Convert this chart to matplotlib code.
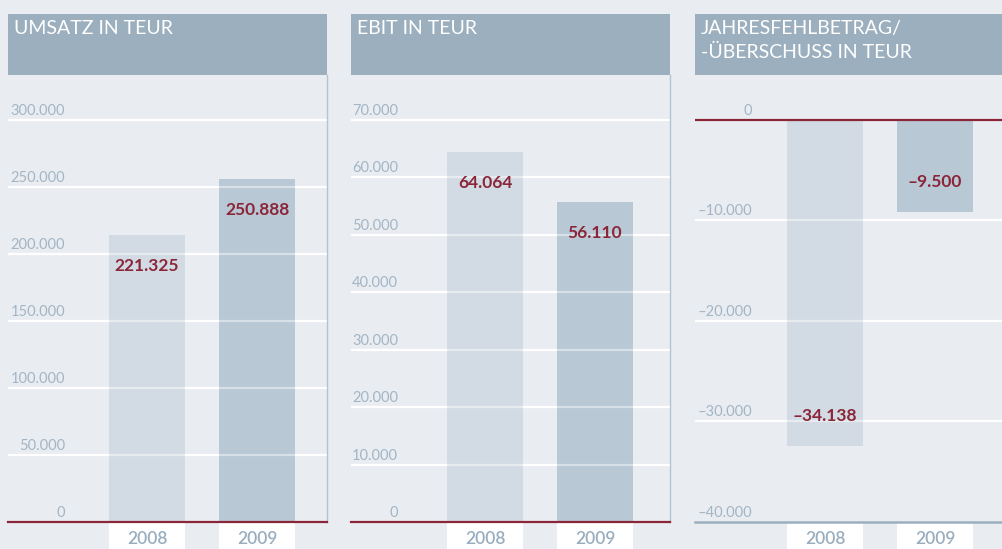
import matplotlib
matplotlib.use("Agg")
import matplotlib.pyplot as plt
from matplotlib.patches import Rectangle

plt.rcParams['font.family'] = ['Lato', 'DejaVu Sans']

# ---- data ----
years = ["2008", "2009"]
titles = ["UMSATZ IN TEUR", "EBIT IN TEUR", "JAHRESFEHLBETRAG/\n-ÜBERSCHUSS IN TEUR"]
umsatz_bars = [214000, 256000]
ebit_bars = [64400, 55700]
jahres_bars = [-32400, -9200]
umsatz_labels = ["221.325", "250.888"]
ebit_labels = ["64.064", "56.110"]
jahres_labels = ["–34.138", "–9.500"]
umsatz_ticks = [0, 50000, 100000, 150000, 200000, 250000, 300000]
ebit_ticks = [0, 10000, 20000, 30000, 40000, 50000, 60000, 70000]
jahres_ticks = [-40000, -30000, -20000, -10000, 0]

# ---- style ----
BG = "#e9edf2"
HEADER = "#9bafbe"
BAR_COLORS = ["#d2dbe4", "#b9c8d5"]
RED = "#8a2638"
TICK_C = "#a3b5c4"
YEAR_C = "#98adbe"
RIGHT_LINE = "#b3c3d0"

W, H = 1003, 549
fig = plt.figure(figsize=(W / 100, H / 100), dpi=100, facecolor=BG)

def fmt(v):
    s = f"{abs(v):,.0f}".replace(",", ".")
    return ("–" + s) if v < 0 else s

panels = [
    dict(title=titles[0], bars=umsatz_bars, labels=umsatz_labels, ticks=umsatz_ticks,
         left=8, center0=147, tick_right=57),
    dict(title=titles[1], bars=ebit_bars, labels=ebit_labels, ticks=ebit_ticks,
         left=351, center0=485, tick_right=47),
    dict(title=titles[2], bars=jahres_bars, labels=jahres_labels, ticks=jahres_ticks,
         left=695, center0=825, tick_right=57),
]

PW = 319
HEAD_TOP, HEAD_BOT = 14, 75
GRID_TOP, BASE = 120, 522
SPACING = 110
BAR_W = 76 / SPACING

for p in panels:
    l = p["left"]
    # header
    hax = fig.add_axes([l / W, 1 - HEAD_BOT / H, PW / W, (HEAD_BOT - HEAD_TOP) / H])
    hax.set_facecolor(HEADER)
    hax.set_xticks([]); hax.set_yticks([])
    for s in hax.spines.values():
        s.set_visible(False)
    hax.text(6 / PW, 1 - 6 / (HEAD_BOT - HEAD_TOP), p["title"], transform=hax.transAxes,
             ha="left", va="top", color="white", fontsize=14, fontweight="normal",
             linespacing=1.5)

    # plot area
    ax = fig.add_axes([l / W, 1 - BASE / H, PW / W, (BASE - HEAD_BOT) / H])
    ax.set_facecolor(BG)
    ticks = p["ticks"]
    ymin, ymaxg = min(ticks), max(ticks)
    ytop = ymaxg + (ymaxg - ymin) * (GRID_TOP - HEAD_BOT) / (BASE - GRID_TOP)
    ax.set_ylim(ymin, ytop)
    xl = -(p["center0"] - l) / SPACING
    ax.set_xlim(xl, xl + PW / SPACING)
    ax.set_xticks([]); ax.set_yticks([])
    for name, s in ax.spines.items():
        s.set_visible(False)
    ax.spines["right"].set_visible(True)
    ax.spines["right"].set_color(RIGHT_LINE)
    ax.spines["right"].set_linewidth(1.0)

    xs = list(range(len(years)))
    for v in ticks:
        if v == 0 or v == ymin:
            continue
        ax.axhline(v, color="white", lw=1.6, zorder=1)
        ax.axhline(v, color="white", lw=1.6, alpha=0.45, zorder=3)
    ax.bar(xs, p["bars"], width=BAR_W, color=BAR_COLORS, zorder=2)

    if ymin < 0:
        ax.axhline(0, color=RED, lw=1.6, zorder=4)
        ax.axhline(ymin, color=HEADER, lw=1.8, zorder=4, clip_on=False)
    else:
        ax.axhline(0, color=RED, lw=1.6, zorder=4, clip_on=False)

    # tick labels
    for v in ticks:
        ax.annotate(fmt(v), xy=(0, v), xycoords=("axes fraction", "data"),
                    xytext=(p["tick_right"], 5), textcoords="offset pixels",
                    ha="right", va="baseline", color=TICK_C, fontsize=10.5,
                    fontweight="normal", zorder=5)

    # value labels
    for x, h, lab in zip(xs, p["bars"], p["labels"]):
        off = -31 if h > 0 else 30
        ax.annotate(lab, xy=(x, h), xytext=(0, off), textcoords="offset pixels",
                    ha="center", va="center", color=RED, fontsize=12.5,
                    fontweight="bold", zorder=6)

    # year boxes
    trans = ax.get_xaxis_transform()
    ah = BASE - HEAD_BOT
    for x, yr in zip(xs, years):
        ax.add_patch(Rectangle((x - BAR_W / 2, -60 / ah), BAR_W, 59 / ah,
                               transform=trans, facecolor="white", edgecolor="none",
                               clip_on=False, zorder=1))
        ax.text(x, -(539 - BASE) / ah, yr, transform=trans, ha="center", va="center",
                color=YEAR_C, fontsize=12.5, fontweight="semibold", clip_on=False, zorder=2)

fig.savefig("out.png", dpi=100, facecolor=BG)
